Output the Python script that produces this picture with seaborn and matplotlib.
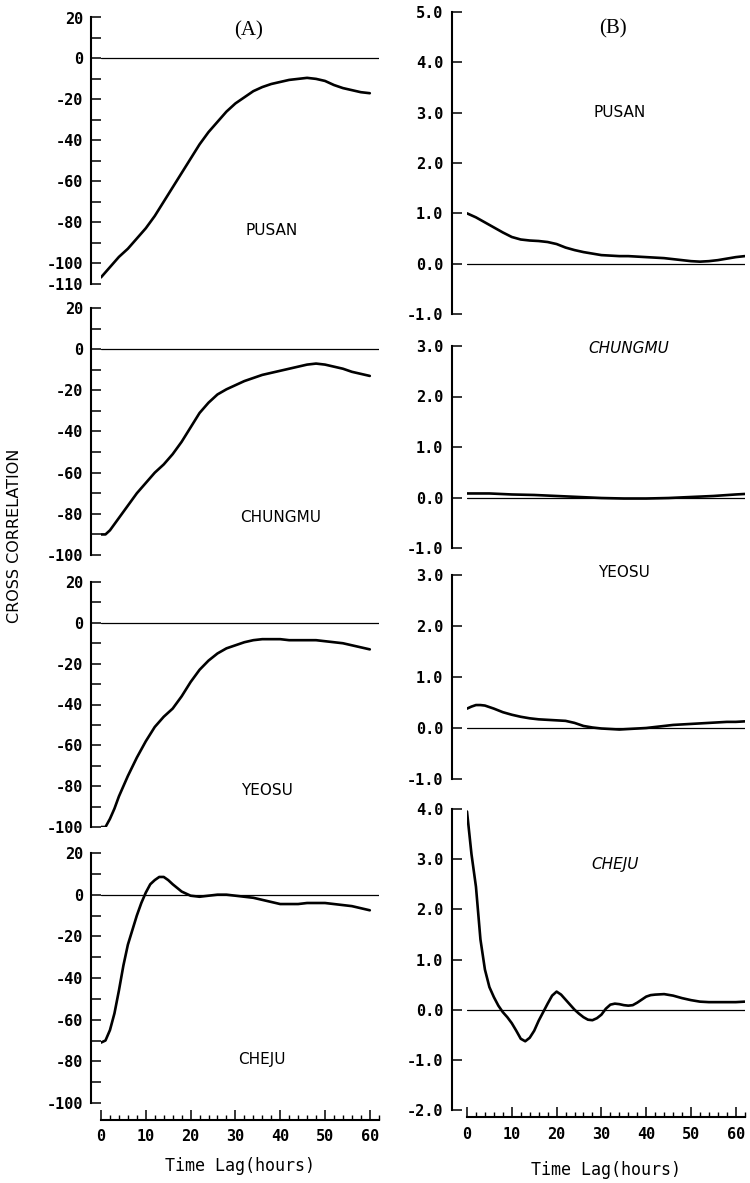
import matplotlib
matplotlib.use("Agg")
import matplotlib.pyplot as plt
import seaborn as sns
import pandas as pd
from matplotlib.ticker import FixedLocator, MultipleLocator, FormatStrFormatter

# ---------------- data ----------------
stations = ["PUSAN", "CHUNGMU", "YEOSU", "CHEJU"]

# Panel (A)
pusan_a_hours = list(range(0, 61, 2))
pusan_a_vals = [-107, -102, -97, -93, -88, -83, -77, -70, -63, -56, -49, -42, -36, -31, -26,
                -22, -19, -16, -14, -12.5, -11.5, -10.5, -10, -9.5, -10, -11, -13, -14.5,
                -15.5, -16.5, -17]

chungmu_a_hours = [0, 1] + list(range(2, 61, 2))
chungmu_a_vals = [-90, -90, -88, -82, -76, -70, -65, -60, -56, -51, -45, -38, -31, -26, -22,
                  -19.5, -17.5, -15.5, -14, -12.5, -11.5, -10.5, -9.5, -8.5, -7.5, -7, -7.5,
                  -8.5, -9.5, -11, -12, -13]

yeosu_a_hours = [0, 1, 2, 3, 4] + list(range(6, 61, 2))
yeosu_a_vals = [-100, -100, -96, -91, -85, -75, -66, -58, -51, -46, -42, -36, -29, -23, -18.5,
                -15, -12.5, -11, -9.5, -8.5, -8, -8, -8, -8.5, -8.5, -8.5, -8.5, -9, -9.5,
                -10, -11, -12, -13]

cheju_a_hours = list(range(0, 17)) + list(range(18, 61, 2))
cheju_a_vals = [-71, -70, -65, -57, -46, -34, -24, -17, -10, -4, 1, 5, 7, 8.5, 8.5, 7, 5,
                1.5, -0.5, -1, -0.5, 0, 0, -0.5, -1, -1.5, -2.5, -3.5, -4.5, -4.5, -4.5,
                -4, -4, -4, -4.5, -5, -5.5, -6.5, -7.5]

# Panel (B)
pusan_b_hours = list(range(0, 63, 2))
pusan_b_vals = [1.0, 0.92, 0.82, 0.72, 0.62, 0.53, 0.48, 0.46, 0.45, 0.43, 0.39, 0.32, 0.27,
                0.23, 0.20, 0.17, 0.16, 0.15, 0.15, 0.14, 0.13, 0.12, 0.11, 0.09, 0.07, 0.05,
                0.04, 0.05, 0.07, 0.10, 0.13, 0.15]

chungmu_b_hours = list(range(0, 61, 5)) + [62]
chungmu_b_vals = [0.08, 0.08, 0.06, 0.05, 0.03, 0.01, -0.01, -0.02, -0.02, -0.01, 0.01,
                  0.03, 0.06, 0.07]

yeosu_b_hours = [0, 1, 2, 3, 4] + list(range(6, 63, 2))
yeosu_b_vals = [0.38, 0.42, 0.45, 0.45, 0.44, 0.38, 0.31, 0.26, 0.22, 0.19, 0.17, 0.16, 0.15,
                0.14, 0.10, 0.04, 0.01, -0.01, -0.02, -0.03, -0.02, -0.01, 0.0, 0.02, 0.04,
                0.06, 0.07, 0.08, 0.09, 0.10, 0.11, 0.12, 0.12, 0.13]

cheju_b_hours = list(range(0, 43)) + list(range(44, 63, 2))
cheju_b_vals = [3.95, 3.1, 2.45, 1.4, 0.8, 0.45, 0.25, 0.08, -0.05, -0.15, -0.27, -0.42,
                -0.58, -0.63, -0.56, -0.42, -0.22, -0.05, 0.12, 0.28, 0.36, 0.30, 0.20,
                0.10, 0.0, -0.08, -0.15, -0.20, -0.21, -0.17, -0.10, 0.02, 0.10, 0.12,
                0.11, 0.09, 0.08, 0.09, 0.14, 0.20, 0.26, 0.29, 0.30,
                0.31, 0.28, 0.23, 0.19, 0.16, 0.15, 0.15, 0.15, 0.15, 0.16]

a_series = [(pusan_a_hours, pusan_a_vals), (chungmu_a_hours, chungmu_a_vals),
            (yeosu_a_hours, yeosu_a_vals), (cheju_a_hours, cheju_a_vals)]
b_series = [(pusan_b_hours, pusan_b_vals), (chungmu_b_hours, chungmu_b_vals),
            (yeosu_b_hours, yeosu_b_vals), (cheju_b_hours, cheju_b_vals)]

a_ylims = [(-110, 20), (-100, 20), (-100, 20), (-100, 20)]
b_ylims = [(-1.0, 5.0), (-1.0, 3.0), (-1.0, 3.0), (-2.0, 4.0)]

a_label_pos = [(38, -84), (40, -82), (37, -82), (36, -79)]
b_label_pos = [(34, 3.0), (36, 2.95), (35, 3.05), (33, 2.9)]
b_label_style = ["normal", "italic", "normal", "italic"]

x_label = "Time Lag(hours)"
y_label = "CROSS CORRELATION"

# ---------------- figure ----------------
sns.set_style("ticks")
plt.rcParams["font.family"] = ["DejaVu Sans"]
plt.rcParams["axes.unicode_minus"] = False
for key in ["text.color", "axes.labelcolor", "xtick.color", "ytick.color", "axes.edgecolor"]:
    plt.rcParams[key] = "black"

W, H = 750, 1183
fig = plt.figure(figsize=(W / 100, H / 100), dpi=100)

PX_PER_H = 4.48
XMAX = 62
a_rows = [(17.5, 283.5), (308, 555), (582, 827), (853, 1103)]
b_rows = [(12, 314), (346, 548), (575, 779), (809, 1110)]
A_X0, B_X0 = 101, 467

mono = dict(family="DejaVu Sans Mono", weight="bold", size=11)


def make_ax(x0, top, bottom):
    return fig.add_axes([x0 / W, 1 - bottom / H, XMAX * PX_PER_H / W, (bottom - top) / H])


def style_ax(ax, is_bottom, left_off, bottom_off, xlab_pad):
    ax.set_xlim(0, XMAX)
    ax.axhline(0, color="black", lw=0.9, zorder=1)
    ax.set_xlabel("")
    ax.set_ylabel("")
    sns.despine(ax=ax, offset={"left": left_off, "bottom": bottom_off}, bottom=not is_bottom)
    ax.spines["left"].set_linewidth(1.5)
    ax.spines["bottom"].set_linewidth(1.5)
    ax.tick_params(axis="y", which="both", direction="in", length=7, width=1.1, pad=6,
                   colors="black")
    for lab in ax.get_yticklabels():
        lab.set_fontproperties(matplotlib.font_manager.FontProperties(**mono))
    if is_bottom:
        ax.xaxis.set_major_locator(MultipleLocator(10))
        ax.xaxis.set_minor_locator(MultipleLocator(2))
        ax.tick_params(axis="x", which="major", direction="in", length=7, width=1.1, pad=7,
                       colors="black")
        ax.tick_params(axis="x", which="minor", direction="in", length=3.5, width=1.0,
                       colors="black")
        for lab in ax.get_xticklabels():
            lab.set_fontproperties(matplotlib.font_manager.FontProperties(**mono))
        ax.set_xlabel(x_label, fontdict=dict(family="DejaVu Sans Mono", size=12),
                      labelpad=xlab_pad, color="black")
    else:
        ax.set_xticks([])
        ax.tick_params(axis="x", which="both", bottom=False, labelbottom=False)


for i in range(4):
    # ---- column A ----
    ax = make_ax(A_X0, *a_rows[i])
    hrs, vals = a_series[i]
    df = pd.DataFrame({"hours": hrs, "value": vals})
    sns.lineplot(data=df, x="hours", y="value", ax=ax, color="black", lw=1.9,
                 estimator=None, sort=False, zorder=3)
    lo, hi = a_ylims[i]
    ax.set_ylim(lo, hi)
    major = list(range(-100, 21, 20))
    if lo == -110:
        major = [-110] + major
    ax.yaxis.set_major_locator(FixedLocator(major))
    ax.yaxis.set_minor_locator(FixedLocator(list(range(-90, 20, 20))))
    ax.yaxis.set_major_formatter(FormatStrFormatter("%d"))
    style_ax(ax, i == 3, 7, 12, 9)
    ax.text(*a_label_pos[i], stations[i], ha="center", va="center", fontsize=11,
            family="DejaVu Sans", color="black")
    if i == 0:
        ax.text(33, 13.5, "(A)", ha="center", va="center", fontsize=15,
                family="Liberation Serif", color="black")

    # ---- column B ----
    bx = make_ax(B_X0, *b_rows[i])
    hrs, vals = b_series[i]
    df = pd.DataFrame({"hours": hrs, "value": vals})
    sns.lineplot(data=df, x="hours", y="value", ax=bx, color="black", lw=1.9,
                 estimator=None, sort=False, zorder=3)
    lo, hi = b_ylims[i]
    bx.set_ylim(lo, hi)
    bx.yaxis.set_major_locator(MultipleLocator(1.0))
    bx.yaxis.set_major_formatter(FormatStrFormatter("%.1f"))
    style_ax(bx, i == 3, 11, 5, 14)
    bx.text(*b_label_pos[i], stations[i], ha="center", va="center", fontsize=11,
            family="DejaVu Sans", style=b_label_style[i], color="black")
    if i == 0:
        bx.text(32.5, 4.67, "(B)", ha="center", va="center", fontsize=15,
                family="Liberation Serif", color="black")

fig.text(0.02, 1 - 536 / H, y_label, rotation=90, ha="center", va="center",
         fontsize=11.5, family="DejaVu Sans", color="black")

fig.savefig("out.png", dpi=100)
